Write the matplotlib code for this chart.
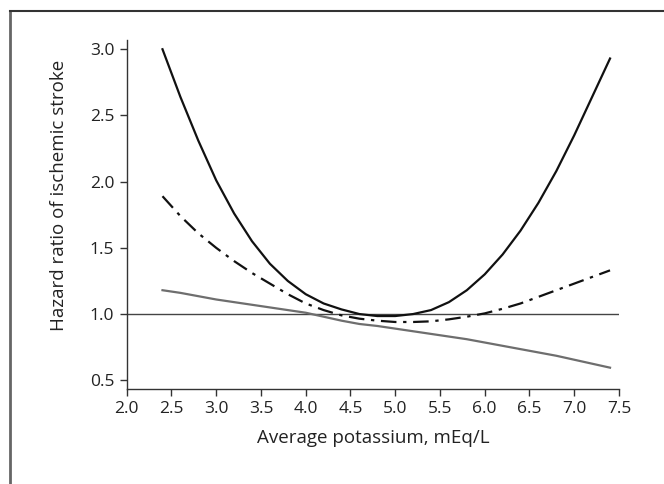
import matplotlib.pyplot as plt
from matplotlib.lines import Line2D

# potassium grid (mEq/L) and hazard ratios
potassium = [2.4, 2.6, 2.8, 3.0, 3.2, 3.4, 3.6, 3.8, 4.0, 4.2, 4.4, 4.6, 4.8,
             5.0, 5.2, 5.4, 5.6, 5.8, 6.0, 6.2, 6.4, 6.6, 6.8, 7.0, 7.2, 7.4]
hr_solid = [3.00, 2.64, 2.31, 2.01, 1.76, 1.55, 1.38, 1.25, 1.15, 1.08, 1.035, 1.00, 0.985,
            0.985, 1.00, 1.03, 1.09, 1.18, 1.30, 1.45, 1.63, 1.84, 2.08, 2.35, 2.64, 2.93]
hr_dashdot = [1.89, 1.74, 1.61, 1.50, 1.40, 1.31, 1.23, 1.15, 1.08, 1.03, 0.99, 0.965, 0.95,
              0.94, 0.94, 0.945, 0.96, 0.98, 1.005, 1.04, 1.08, 1.13, 1.18, 1.23, 1.28, 1.33]
hr_gray = [1.18, 1.16, 1.135, 1.11, 1.09, 1.07, 1.05, 1.03, 1.01, 0.98, 0.95, 0.925, 0.91,
           0.89, 0.87, 0.85, 0.83, 0.81, 0.785, 0.76, 0.735, 0.71, 0.685, 0.655, 0.625, 0.595]

x_ticks = [2.0, 2.5, 3.0, 3.5, 4.0, 4.5, 5.0, 5.5, 6.0, 6.5, 7.0, 7.5]
y_ticks = [0.5, 1.0, 1.5, 2.0, 2.5, 3.0]

plt.rcParams['font.family'] = ['Open Sans', 'DejaVu Sans']

fig = plt.figure(figsize=(6.64, 4.84), dpi=100)
ax = fig.add_axes([0.1908, 0.1963, 0.7414, 0.7211])

ax.axhline(1.0, color='#444444', lw=1.0)
ax.plot(potassium, hr_gray, color='#6e6e6e', lw=1.6)
ax.plot(potassium, hr_dashdot, color='#111111', lw=1.6, linestyle=(0, (7, 3, 1.5, 3)))
ax.plot(potassium, hr_solid, color='#111111', lw=1.6)

ax.set_xlim(2.0, 7.5)
ax.set_ylim(0.434, 3.07)
ax.set_xticks(x_ticks)
ax.set_xticklabels([f"{t:.1f}" for t in x_ticks])
ax.set_yticks(y_ticks)
ax.set_yticklabels([f"{t:.1f}" for t in y_ticks])

for side in ['top', 'right']:
    ax.spines[side].set_visible(False)
for side in ['left', 'bottom']:
    ax.spines[side].set_color('#333333')
    ax.spines[side].set_linewidth(1.0)
ax.tick_params(direction='out', length=5, width=1.0, color='#333333',
               labelsize=12.5, labelcolor='#222222', pad=4)

ax.set_xlabel("Average potassium, mEq/L", fontsize=13.5, color='#222222', labelpad=8)
ax.set_ylabel("Hazard ratio of ischemic stroke", fontsize=13.5, color='#222222')
ax.yaxis.set_label_coords(-0.12, 0.556)

# cropped panel frame: left and top edges only
fig.add_artist(Line2D([0.0158, 0.0158], [0.0, 0.977], transform=fig.transFigure,
                      color='#666666', lw=2.0))
fig.add_artist(Line2D([0.0150, 1.0], [0.977, 0.977], transform=fig.transFigure,
                      color='#333333', lw=1.5))

fig.savefig("out.png", dpi=100)
